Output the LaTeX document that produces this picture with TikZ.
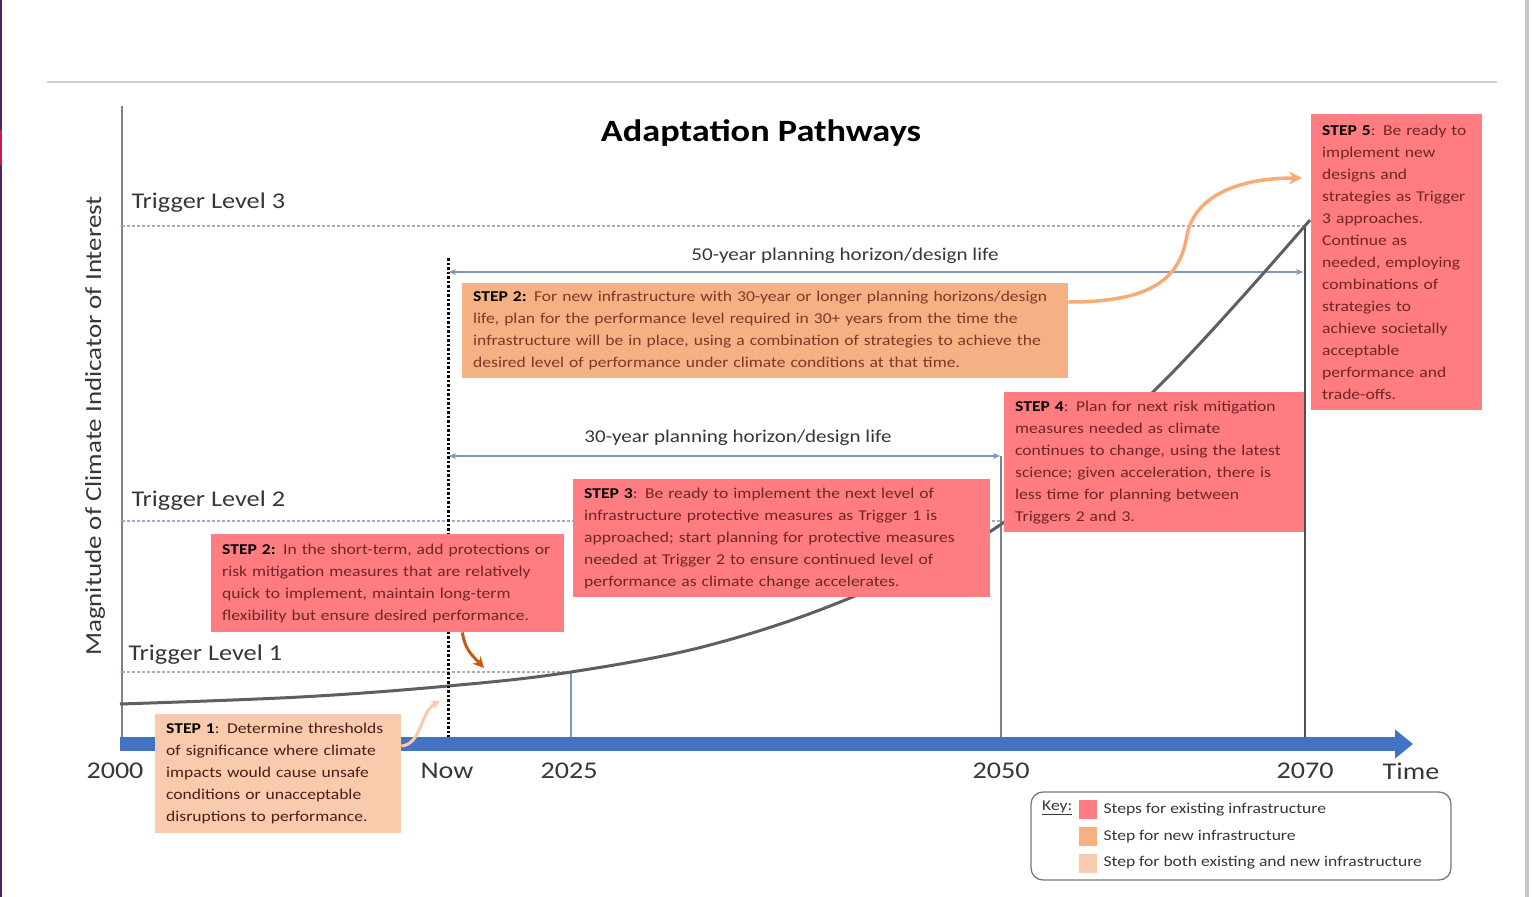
\documentclass[tikz,border=0pt]{standalone}
\usepackage{fontspec}
\setmainfont{Carlito}[FakeStretch=1.17]
\usetikzlibrary{arrows.meta,calc}
\definecolor{redbox}{HTML}{FF7C80}
\definecolor{orangebox}{HTML}{F4B183}
\definecolor{peachbox}{HTML}{F8CBAD}
\definecolor{bodytxt}{HTML}{6E2626}
\definecolor{axisblue}{HTML}{4472C4}
\definecolor{darkorange}{HTML}{C55A11}
\definecolor{trig}{RGB}{160,172,205}
\definecolor{horiz}{RGB}{125,155,185}
\definecolor{txtgrey}{RGB}{55,55,55}
\definecolor{leftedge}{RGB}{75,35,105}
\definecolor{leftred}{RGB}{200,30,70}
\definecolor{rightedge}{RGB}{200,200,200}
\definecolor{topline}{RGB}{205,205,205}
\definecolor{yaxis}{RGB}{130,130,130}
\definecolor{line50}{RGB}{120,130,140}
\definecolor{line70}{RGB}{70,80,90}
\definecolor{curvec}{RGB}{95,95,95}
\definecolor{keyframe}{RGB}{120,120,120}
\begin{document}
\begin{tikzpicture}[x=1pt,y=-1pt,
  stepbox/.style={anchor=north west, inner xsep=11pt, inner ysep=4pt, align=left,
     font=\fontsize{15}{22}\selectfont, text=bodytxt},
  triglab/.style={anchor=west, font=\fontsize{22.5}{26}\selectfont, text=txtgrey},
  triggerline/.style={trig, line width=1.3pt, dash pattern=on 3pt off 2pt},
  yearlab/.style={font=\fontsize{24}{28}\selectfont, text=txtgrey},
  horizon/.style={horiz, line width=1.6pt, {Stealth[length=7pt,width=6pt]}-{Stealth[length=7pt,width=6pt]}},
  horlab/.style={font=\fontsize{18}{22}\selectfont, text=txtgrey},
  keytxt/.style={anchor=west, font=\fontsize{15}{18}\selectfont, text=txtgrey},
  swatch/.style={minimum width=18pt, minimum height=19pt, inner sep=0pt, anchor=north west}
]
\useasboundingbox (0,0) rectangle (1532,897);
% frame decorations
\fill[white] (0,0) rectangle (1532,897);
\fill[leftedge] (0,0) rectangle (2,897);
\fill[leftred] (0,130) rectangle (2,165);
\fill[rightedge] (1525,0) rectangle (1529,897);
\draw[topline, line width=2pt] (47,82) -- (1497,82);

% coordinates
\coordinate (yTop) at (122,106);
\coordinate (yBot) at (122,745);
\coordinate (t0) at (120,744);
\coordinate (tEnd) at (1413,744);
\coordinate (nowTop) at (448,258);
\coordinate (nowBot) at (448,737);
\coordinate (y25a) at (571,672);
\coordinate (y25b) at (571,737);
\coordinate (y50a) at (1001,456);
\coordinate (y50b) at (1001,737);
\coordinate (y70a) at (1305,226);
\coordinate (y70b) at (1305,737);
\coordinate (tr3a) at (122,226);
\coordinate (tr3b) at (1305,226);
\coordinate (tr2a) at (122,521);
\coordinate (tr2b) at (1001,521);
\coordinate (tr1a) at (122,672);
\coordinate (tr1b) at (571,672);
\coordinate (h50a) at (449,272);
\coordinate (h50b) at (1303,272);
\coordinate (h30a) at (449,456);
\coordinate (h30b) at (1000,456);

% title
\node[font=\fontsize{31}{36}\selectfont\bfseries] (title) at (761,133) {Adaptation Pathways};

% y axis
\draw[yaxis, line width=2pt] (yTop) -- (yBot);
\node[rotate=90, font=\fontsize{23}{28}\selectfont, text=txtgrey] (ylab) at (95,426) {Magnitude of Climate Indicator of Interest};

% trigger lines
\draw[triggerline] (tr3a) -- (tr3b);
\draw[triggerline] (tr2a) -- (tr2b);
\draw[triggerline] (tr1a) -- (tr1b);
\node[triglab] (t3) at (128,203) {Trigger Level 3};
\node[triglab] (t2) at (128,501) {Trigger Level 2};
\node[triglab] (t1) at (125,655) {Trigger Level 1};

% vertical year lines
\draw[horiz, line width=1.2pt] (y25a) -- (y25b);
\draw[line50, line width=1.4pt] (y50a) -- (y50b);
\draw[line70, line width=1.6pt] (y70a) -- (y70b);

% horizons
\draw[horizon] (h50a) -- (h50b);
\draw[horizon] (h30a) -- (h30b);
\node[horlab] (l50) at (845,256) {50-year planning horizon/design life};
\node[horlab] (l30) at (738,438) {30-year planning horizon/design life};

% climate curve
\draw[curvec, line width=3pt]
  plot[smooth, tension=0.6] coordinates {(120,704) (300,697) (448,686) (571,672) (710,645) (850,598) (1000,525) (1160,385) (1310,220)};

% now line
\draw[black, line width=3pt, dash pattern=on 2.5pt off 2pt] (nowTop) -- (nowBot);

% time axis
\draw[axisblue, line width=14pt, -{Triangle[length=18pt,width=28pt]}] (t0) -- (tEnd);
\node[yearlab] (l2000) at (115,771) {2000};
\node[yearlab] (lnow) at (447,771) {Now};
\node[yearlab] (l2025) at (569,771) {2025};
\node[yearlab] (l2050) at (1001,771) {2050};
\node[yearlab] (l2070) at (1305,771) {2070};
\node[yearlab] (ltime) at (1411,771) {Time};

% step boxes
\node[stepbox, fill=orangebox, text=bodytxt!80!brown, text width=584pt, minimum height=95pt] (s2o) at (462,283)
 {\textcolor{black}{\textbf{STEP 2:}} For new infrastructure with 30-year or longer planning horizons/design\\
  life, plan for the performance level required in 30+ years from the time the\\
  infrastructure will be in place, using a combination of strategies to achieve the\\
  desired level of performance under climate conditions at that time.};

\node[stepbox, fill=redbox, text width=149pt, minimum height=296pt] (s5) at (1311,114)
 {\textcolor{black}{\textbf{STEP 5}}: Be ready to\\ implement new\\ designs and\\ strategies as Trigger\\ 3 approaches.\\ Continue as\\ needed, employing\\ combinations of\\ strategies to\\ achieve societally\\ acceptable\\ performance and\\ trade-offs.};

\node[stepbox, fill=redbox, text width=278pt, minimum height=140pt] (s4) at (1004,392)
 {\textcolor{black}{\textbf{STEP 4}}: Plan for next risk mitigation\\ measures needed as climate\\ continues to change, using the latest\\ science; given acceleration, there is\\ less time for planning between\\ Triggers 2 and 3.};

\node[stepbox, fill=redbox, text width=395pt, minimum height=118pt] (s3) at (573,479)
 {\textcolor{black}{\textbf{STEP 3}}: Be ready to implement the next level of\\ infrastructure protective measures as Trigger 1 is\\ approached; start planning for protective measures\\ needed at Trigger 2 to ensure continued level of\\ performance as climate change accelerates.};

\node[stepbox, fill=redbox, text width=331pt, minimum height=98pt] (s2r) at (211,534)
 {\textcolor{black}{\textbf{STEP 2:}} In the short-term, add protections or\\ risk mitigation measures that are relatively\\ quick to implement, maintain long-term\\ flexibility but ensure desired performance.};

\node[stepbox, fill=peachbox, text=bodytxt!70!black, text width=224pt, minimum height=119pt] (s1) at (155,714)
 {\textcolor{black}{\textbf{STEP 1}}: Determine thresholds\\ of significance where climate\\ impacts would cause unsafe\\ conditions or unacceptable\\ disruptions to performance.};

% connector arrows
\coordinate (a5) at (1302,178);
\draw[orangebox!90!orange, line width=3.5pt, -{Stealth[length=13pt,width=13pt]}]
  ([yshift=-19pt]s2o.north east) .. controls (1150,302) and (1180,280) .. (1187,235)
  .. controls (1195,195) and (1240,178) .. (a5);
\coordinate (a2) at (484,668);
\draw[darkorange, line width=3pt, -{Stealth[length=11pt,width=11pt]}]
  ([xshift=-102pt]s2r.south east) .. controls (465,650) and (472,655) .. (a2);
\coordinate (a1) at (440,701);
\draw[peachbox, line width=3pt, -{Stealth[length=9pt,width=9pt]}]
  ([yshift=-32pt]s1.north east) .. controls (422,744) and (420,712) .. (a1);

% key
\draw[keyframe, line width=1.3pt, rounded corners=12pt] (1031,792) rectangle (1451,880);
\node[keytxt, inner sep=0pt] (key) at (1042,808) {\underline{Key:}};
\node[swatch, fill=redbox] (k1) at (1079,800) {};
\node[swatch, fill=orangebox] (k2) at (1079,827) {};
\node[swatch, fill=peachbox] (k3) at (1079,854) {};
\node[keytxt] (kt1) at (1100,810) {Steps for existing infrastructure};
\node[keytxt] (kt2) at (1100,837) {Step for new infrastructure};
\node[keytxt] (kt3) at (1100,863) {Step for both existing and new infrastructure};
\end{tikzpicture}
\end{document}
